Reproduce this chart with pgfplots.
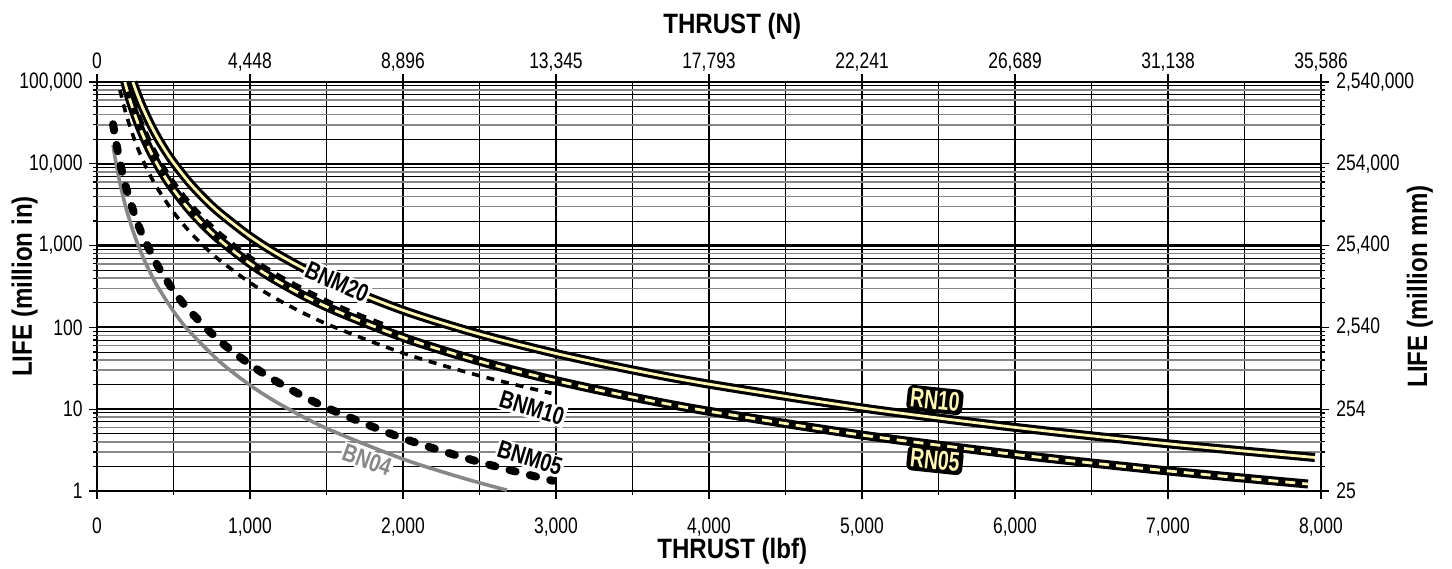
\documentclass[border=0pt]{standalone}
\usepackage{fontspec}
\setmainfont{Liberation Sans}[FakeStretch=0.78]
\newfontfamily\widefont{Liberation Sans}[FakeStretch=0.86]
\newfontfamily\narrowfont{Liberation Sans}[FakeStretch=0.72]
\usepackage{pgfplots}
\usepackage{pgfplotstable}
\pgfplotsset{compat=1.18}

\definecolor{cream}{RGB}{255,247,180}
\definecolor{gline}{RGB}{135,135,135}

\newcommand\tickfont{\fontsize{11.2}{12}\selectfont}
\newcommand\labfont{\widefont\bfseries\fontsize{14}{16}\selectfont}
\newcommand\curvefont{\bfseries\fontsize{12.5}{13}\selectfont}
\newcommand\rnfont{\narrowfont\bfseries\fontsize{13.5}{14}\selectfont}

% thrust (lbf) vs life (million in)
\pgfplotstableread{
F L
235 99790
250 82882
275 62271
300 47964
350 30205
400 20235
450 14212
500 10360
600 5995.5
700 3775.6
800 2529.4
1000 1295.0
1200 749.4
1500 383.7
2000 161.9
2500 82.88
3000 47.96
3500 30.20
4000 20.23
5000 10.36
6000 5.996
7000 3.776
7960 2.568
}\rnten

\pgfplotstableread{
F L
182 100000
200 75419
225 52969
250 38614
275 29012
300 22346
350 14072
400 9427
450 6621
500 4826.8
600 2793.3
700 1759.0
800 1178.4
1000 603.35
1200 349.16
1500 178.77
2000 75.42
2500 38.61
3000 22.35
3500 14.07
4000 9.427
5000 4.827
6000 2.793
7000 1.759
7915 1.217
}\rnfive

\pgfplotstableread{
F L
188 99900
200 83000
225 58300
250 42500
275 31930
300 24600
350 15490
400 10380
450 7290
500 5314
600 3075
700 1937
800 1297
1000 664.2
1200 384.4
1500 196.8
1700 135.2
1870 101.6
}\bnmtwenty

\pgfplotstableread{
F L
150 80080
175 51523
200 35170
250 18578
300 11026
350 7094
400 4843
500 2557
600 1518
700 977.2
800 667.2
1000 352.4
1200 209.2
1500 110.5
2000 48.55
2500 25.65
2970 15.65
}\bnmten

\pgfplotstableread{
F L
105 30483
120 20421
150 10456
175 6584
200 4410.9
250 2258.4
300 1306.9
400 551.4
500 282.3
600 163.4
800 68.92
1000 35.29
1200 20.42
1500 10.456
2000 4.411
2500 2.258
2980 1.333
}\bnmfive

\pgfplotstableread{
F L
105 17003
120 11391
150 5832
175 3672.6
200 2460.4
250 1259.7
300 729.0
350 459.1
400 307.5
500 157.5
600 91.13
800 38.44
1000 19.68
1200 11.39
1500 5.832
2000 2.460
2400 1.424
2680 1.023
}\bnfour

\begin{document}
\begin{tikzpicture}
% back axis: top and right scales, thick decade lines
\begin{axis}[
    scale only axis, width=612pt, height=204.5pt,
    xmin=0, xmax=8000, ymin=1, ymax=100000, ymode=log,
    axis line style={line width=0.6pt},
    tick style={black, line width=0.6pt},
    major tick length=4pt, minor tick length=2.2pt,
    tick align=outside,
    xtick={0,1000,...,8000},
    xticklabels={0,{4,448},{8,896},{13,345},{17,793},{22,241},{26,689},{31,138},{35,586}},
    xtick pos=top, xticklabel pos=top,
    ytick={1,10,100,1000,10000,100000},
    yticklabels={25,254,{2,540},{25,400},{254,000},{2,540,000}},
    minor ytick={2,3,4,5,6,7,8,9,20,30,40,50,60,70,80,90,200,300,400,500,600,700,800,900,2000,3000,4000,5000,6000,7000,8000,9000,20000,30000,40000,50000,60000,70000,80000,90000},
    ytick pos=right, yticklabel pos=right,
    ymajorgrids, major grid style={black, line width=1.1pt},
    /pgf/number format/assume math mode=true,
    ticklabel style={font=\tickfont, inner sep=0pt},
    xticklabel style={anchor=base, yshift=3pt},
    yticklabel style={anchor=west, xshift=3.5pt},
]
\end{axis}
% front axis: bottom and left scales, grid and curves
\begin{axis}[
    scale only axis, width=612pt, height=204.5pt,
    xmin=0, xmax=8000, ymin=1, ymax=100000, ymode=log,
    clip=false,
    axis line style={line width=0.6pt},
    tick style={black, line width=0.6pt},
    major tick length=4pt, minor tick length=2.2pt,
    tick align=outside,
    xtick={0,1000,...,8000},
    xticklabels={0,{1,000},{2,000},{3,000},{4,000},{5,000},{6,000},{7,000},{8,000}},
    minor xtick={500,1500,2500,3500,4500,5500,6500,7500},
    xtick pos=bottom, xticklabel pos=bottom,
    ytick={1,10,100,1000,10000,100000},
    yticklabels={1,10,100,{1,000},{10,000},{100,000}},
    minor ytick={2,5,7,9,20,50,70,90,200,500,700,900,2000,5000,7000,9000,20000,50000,70000,90000},
    extra y ticks={3,4,6,8,30,40,60,80,300,400,600,800,3000,4000,6000,8000,30000,40000,60000,80000},
    extra y tick labels={},
    extra y tick style={major tick length=2.2pt, grid=major, major grid style={gline, line width=0.8pt}},
    ytick pos=left, yticklabel pos=left,
    grid=both,
    major grid style={black, line width=0.6pt},
    minor grid style={black, line width=0.45pt},
    /pgf/number format/assume math mode=true,
    ticklabel style={font=\tickfont, inner sep=0pt},
    xticklabel style={anchor=base, yshift=-17.5pt},
    yticklabel style={anchor=east, xshift=-3pt},
]
\addplot[gline, line width=1.8pt, smooth] table {\bnfour};
\addplot[black, line width=4pt, line cap=round, dash pattern=on 3.2pt off 7.3pt, smooth] table {\bnmfive};
\addplot[black, line width=1.8pt, dash pattern=on 4pt off 3.5pt, smooth] table {\bnmten};
\addplot[black, line width=4.5pt, smooth] table {\rnten};
\addplot[cream, line width=1.4pt, smooth] table {\rnten};
\addplot[black, line width=4.6pt, dash pattern=on 5pt off 4pt, smooth] table {\bnmtwenty};
\addplot[black, line width=4.5pt, smooth] table {\rnfive};
\addplot[cream, line width=1.4pt, dash pattern=on 5pt off 3.5pt, smooth] table {\rnfive};

\node[font=\curvefont, fill=white, inner sep=0.8pt, rotate=-24] at (axis cs:1569,359) {BNM20};
\node[font=\curvefont, fill=white, inner sep=0.8pt, rotate=-17] at (axis cs:2843,10.3) {BNM10};
\node[font=\curvefont, fill=white, inner sep=0.8pt, rotate=-17] at (axis cs:2830,2.53) {BNM05};
\node[font=\curvefont, text=gline, fill=white, inner sep=0.8pt, rotate=-20] at (axis cs:1765,2.39) {BN04};
\node[font=\rnfont, text=cream, fill=black, rounded corners=3pt, inner sep=1.6pt, rotate=-6] at (axis cs:5477,12.95) {RN10};
\node[font=\rnfont, text=cream, fill=black, rounded corners=3pt, inner sep=1.6pt, rotate=-6] at (axis cs:5477,2.39) {RN05};

\node[font=\labfont, anchor=base] at ([yshift=-33.5pt]rel axis cs:0.519,0) {THRUST (lbf)};
\node[font=\labfont, anchor=base] at ([yshift=24pt]rel axis cs:0.519,1) {THRUST (N)};
\node[font=\labfont, anchor=base, rotate=90] at ([xshift=-32.5pt]rel axis cs:0,0.5) {LIFE (million in)};
\node[font=\labfont, anchor=base, rotate=90] at ([xshift=53pt]rel axis cs:1,0.5) {LIFE (million mm)};
\end{axis}
\pgfresetboundingbox
\useasboundingbox (-48.5pt,-38.5pt) rectangle (677.5pt,245.5pt);
\end{tikzpicture}
\end{document}
